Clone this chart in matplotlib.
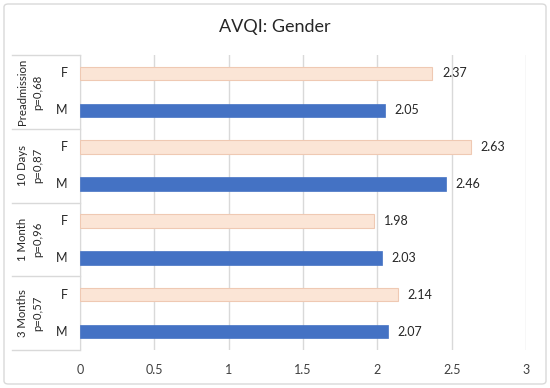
import matplotlib
matplotlib.use('Agg')
import matplotlib.pyplot as plt
import matplotlib.transforms as mtransforms
from matplotlib.patches import FancyBboxPatch
from matplotlib.lines import Line2D

plt.rcParams['font.family'] = ['Lato', 'DejaVu Sans']

groups = ['Preadmission\np=0,68', '10 Days\np=0,87', '1 Month\np=0,96', '3 Months\np=0,57']
sexes = ['F', 'M']
f_vals = [2.37, 2.63, 1.98, 2.14]
m_vals = [2.05, 2.46, 2.03, 2.07]
xticks = [0, 0.5, 1, 1.5, 2, 2.5, 3]
xtick_labels = ['0', '0.5', '1', '1.5', '2', '2.5', '3']

W, H = 550, 388
fig = plt.figure(figsize=(5.5, 3.88), dpi=100)

# outer chart border
border = FancyBboxPatch((4 / W, 4 / H), 542 / W, 380 / H,
                        boxstyle='round,pad=0,rounding_size=0.008',
                        transform=fig.transFigure, facecolor='none',
                        edgecolor='#D9D9D9', linewidth=1.0, zorder=-1)
fig.patches.append(border)

ax = fig.add_axes([80 / W, (H - 350) / H, 446 / W, 295 / H])
ax.set_facecolor('none')

# one slot per bar, top to bottom
ypos_f = [2 * i for i in range(len(groups))]
ypos_m = [2 * i + 1 for i in range(len(groups))]
bh = 13.5 / 37

ax.barh(ypos_f, f_vals, height=bh, color='#FBE5D6', edgecolor='#EFC9B3',
        linewidth=0.8, zorder=3)
ax.barh(ypos_m, m_vals, height=bh, color='#4472C4', edgecolor='#4472C4',
        linewidth=0.5, zorder=3)

for y, v in zip(ypos_f + ypos_m, f_vals + m_vals):
    ax.text(v + 0.065, y, f'{v:.2f}', va='center', ha='left',
            fontsize=9, color='#262626')

ax.set_xlim(0, 3)
ax.set_ylim(2 * len(groups) - 0.5, -0.5)
ax.set_xticks(xticks)
ax.set_xticklabels(xtick_labels, fontsize=9, color='#404040')
ax.tick_params(axis='x', length=0, pad=10)
ax.set_yticks([])
ax.grid(axis='x', color='#D9D9D9', linewidth=1.0, zorder=0)
for s in ['top', 'right', 'bottom']:
    ax.spines[s].set_visible(False)
ax.spines['left'].set_color('#D9D9D9')

# category labels and separators on the left
tr = mtransforms.blended_transform_factory(fig.transFigure, ax.transData)
for i, g in enumerate(groups):
    ax.text(64 / W, ypos_f[i], sexes[0], transform=tr, ha='center',
            va='center', fontsize=9, color='#262626')
    ax.text(62 / W, ypos_m[i], sexes[1], transform=tr, ha='center',
            va='center', fontsize=9, color='#262626')
    ax.text(30 / W, 2 * i + 0.5, g, transform=tr, rotation=90,
            ha='center', va='center', fontsize=8.2, color='#262626',
            multialignment='center', linespacing=1.45)
for k in range(len(groups) + 1):
    y = 2 * k - 0.5
    fig.add_artist(Line2D([12 / W, 80 / W], [y, y], transform=tr,
                          color='#D9D9D9', linewidth=1.0))

fig.text(275 / W, 1 - 27 / H, 'AVQI: Gender', ha='center', va='center',
         fontsize=13, color='#262626')

fig.savefig('out.png', dpi=100)
